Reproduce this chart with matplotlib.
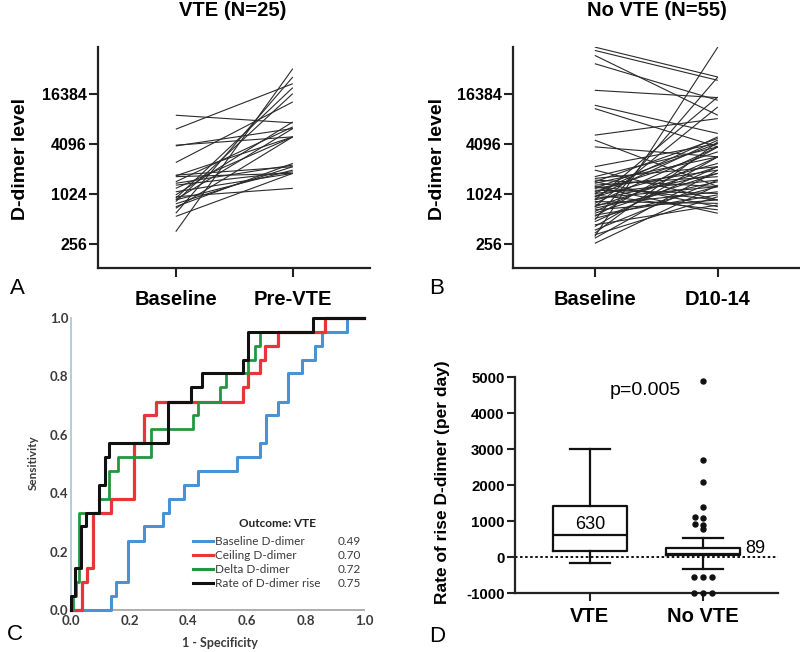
import matplotlib
matplotlib.use("Agg")
import matplotlib.pyplot as plt
from matplotlib.ticker import NullLocator, FixedLocator, FixedFormatter

# ---------------- data ----------------
# Panel A : VTE (N=25)
vte_categories = ["Baseline", "Pre-VTE"]
vte_baseline = [9150, 6210, 3980, 3900, 2460, 1730, 1700, 1380, 1310, 1090, 950, 910, 880,
                870, 830, 780, 690, 600, 550, 360, 1000, 1660, 1440, 720, 1200]
vte_pre = [7400, 22020, 5020, 6330, 13250, 2190, 5020, 2290, 1900, 1820, 1200, 19710, 6330,
           1990, 16700, 2190, 5020, 26490, 1820, 33400, 7610, 1820, 6620, 2400, 5020]

# Panel B : No VTE (N=55)
novte_categories = ["Baseline", "D10-14"]
novte_baseline = [60850, 55480, 48300, 38370, 18300, 12080, 11010, 5260, 4580, 3800, 2190, 1990,
                  315, 500, 720, 870, 1040, 1200, 1440, 1660, 1580, 1510, 1440, 1380, 1310, 1260,
                  1200, 1140, 1090, 1040, 1000, 950, 910, 870, 830, 790, 755, 720, 690, 660, 630,
                  600, 570, 550, 520, 475, 435, 415, 375, 345, 330, 300, 260, 1260, 950]
novte_d10 = [26490, 24150, 9150, 13870, 14940, 5510, 3800, 8350, 1260, 2880, 4170, 870,
             60850, 26490, 11530, 15210, 5020, 4170, 4800, 3800, 2190, 1260, 720, 2880, 1660, 870,
             1990, 1040, 3310, 1510, 660, 2400, 1260, 1820, 790, 3800, 1090, 2190, 1440, 870, 2880,
             1820, 1000, 3800, 1260, 2190, 755, 2880, 1510, 4370, 950, 1990, 1310, 600, 4580]
dimer_ticks = [256, 1024, 4096, 16384]

# Panel C : ROC curves (1 - specificity, sensitivity)
roc_names = ["Baseline D-dimer", "Ceiling D-dimer", "Delta D-dimer", "Rate of D-dimer rise"]
roc_auc = ["0.49", "0.70", "0.72", "0.75"]
baseline_fpr = [0, 0.136, 0.153, 0.193, 0.25, 0.313, 0.336, 0.387, 0.433, 0.567, 0.644, 0.667,
                0.707, 0.741, 0.787, 0.832, 0.858, 0.941, 1.0]
baseline_tpr = [0, 0.048, 0.095, 0.238, 0.286, 0.333, 0.381, 0.429, 0.476, 0.524, 0.571, 0.667,
                0.714, 0.810, 0.857, 0.905, 0.952, 1.0, 1.0]
ceiling_fpr = [0, 0.039, 0.056, 0.075, 0.136, 0.214, 0.25, 0.29, 0.587, 0.604, 0.644, 0.661,
               0.707, 0.866, 1.0]
ceiling_tpr = [0, 0.095, 0.143, 0.333, 0.381, 0.571, 0.667, 0.714, 0.762, 0.810, 0.857, 0.905,
               0.952, 1.0, 1.0]
delta_fpr = [0, 0.007, 0.018, 0.027, 0.096, 0.13, 0.16, 0.273, 0.415, 0.433, 0.507, 0.53, 0.604,
             0.627, 0.644, 0.826, 1.0]
delta_tpr = [0, 0.048, 0.095, 0.333, 0.381, 0.476, 0.524, 0.619, 0.667, 0.714, 0.762, 0.810,
             0.857, 0.905, 0.952, 1.0, 1.0]
rate_fpr = [0, 0, 0.014, 0.033, 0.052, 0.094, 0.116, 0.13, 0.332, 0.41, 0.446, 0.587, 0.604,
            0.826, 1.0]
rate_tpr = [0, 0.048, 0.143, 0.286, 0.333, 0.429, 0.524, 0.571, 0.714, 0.762, 0.810, 0.857,
            0.952, 1.0, 1.0]
roc_ticks = [0.0, 0.2, 0.4, 0.6, 0.8, 1.0]

# Panel D : rate of rise box plot
box_groups = ["VTE", "No VTE"]
box_median = [630, 89]
box_q1 = [180, 55]
box_q3 = [1425, 267]
box_whislo = [-150, -335]
box_whishi = [3000, 528]
novte_outliers = [4900, 2700, 2100, 1400, 1130, 1080, 930, 900, 780, -560, -560, -560,
                  -1000, -1000, -1000]
outlier_offsets = [0, 0, 0, 0, -0.075, 0.0, -0.075, 0.0, 0.0, -0.08, 0.0, 0.075,
                   -0.08, 0.0, 0.075]
box_ticks = [-1000, 0, 1000, 2000, 3000, 4000, 5000]

# ---------------- figure ----------------
W, H = 800, 652
fig = plt.figure(figsize=(W / 100, H / 100), dpi=100)
fig.patch.set_facecolor("white")

ARIAL = ["Liberation Sans", "DejaVu Sans"]
CAL = ["Lato", "DejaVu Sans"]


def axes_px(left, top, right, bottom):
    return fig.add_axes([left / W, 1 - bottom / H, (right - left) / W, (bottom - top) / H])


def pair_panel(ax, cats, before, after):
    for b, a in zip(before, after):
        ax.plot([0, 1], [b, a], color="#2b2b2b", lw=0.8, solid_capstyle="butt")
    ax.set_yscale("log", base=2)
    ax.set_ylim(131, 61000)
    ax.set_xlim(-0.665, 1.66)
    ax.yaxis.set_major_locator(FixedLocator(dimer_ticks))
    ax.yaxis.set_major_formatter(FixedFormatter([str(t) for t in dimer_ticks]))
    ax.yaxis.set_minor_locator(NullLocator())
    ax.set_xticks([0, 1])
    ax.set_xticklabels(cats, fontfamily=ARIAL, fontweight="bold", fontsize=14.5)
    for lab in ax.get_yticklabels():
        lab.set_fontfamily(ARIAL)
        lab.set_fontweight("bold")
        lab.set_fontsize(11.5)
    for s in ["top", "right"]:
        ax.spines[s].set_visible(False)
    for s in ["left", "bottom"]:
        ax.spines[s].set_linewidth(1.6)
        ax.spines[s].set_color("#222222")
    ax.tick_params(axis="y", length=6.5, width=1.5, pad=1.5, color="#222222")
    ax.tick_params(axis="x", length=6.5, width=1.5, pad=9, color="#222222")
    ax.set_facecolor("none")


# Panel A
axA = axes_px(98, 47, 370, 268)
pair_panel(axA, vte_categories, vte_baseline, vte_pre)
fig.text(233 / W, 1 - 11 / H, "VTE (N=25)", fontfamily=ARIAL, fontweight="bold",
         fontsize=14.5, ha="center", va="center")
fig.text(21 / W, 1 - 159 / H, "D-dimer level", fontfamily=ARIAL, fontweight="bold",
         fontsize=14, rotation=90, ha="center", va="center")
fig.text(17 / W, 1 - 288 / H, "A", fontfamily=ARIAL, fontsize=16, ha="center", va="center")

# Panel B
axB = axes_px(513, 47, 799, 268)
pair_panel(axB, novte_categories, novte_baseline, novte_d10)
fig.text(657 / W, 1 - 11 / H, "No VTE (N=55)", fontfamily=ARIAL, fontweight="bold",
         fontsize=14.5, ha="center", va="center")
fig.text(437 / W, 1 - 159 / H, "D-dimer level", fontfamily=ARIAL, fontweight="bold",
         fontsize=14, rotation=90, ha="center", va="center")
fig.text(437 / W, 1 - 288 / H, "B", fontfamily=ARIAL, fontsize=16, ha="center", va="center")

# Panel C (ROC)
axC = axes_px(71, 318, 364, 610)
roc_data = [(baseline_fpr, baseline_tpr, "#4a92d6", 2.2),
            (ceiling_fpr, ceiling_tpr, "#e8353a", 2.3),
            (delta_fpr, delta_tpr, "#22973f", 2.0),
            (rate_fpr, rate_tpr, "#111111", 2.2)]
for fpr, tpr, col, lw in roc_data:
    axC.step(fpr, tpr, where="post", color=col, lw=lw, clip_on=False, zorder=3)
axC.set_xlim(0, 1)
axC.set_ylim(0, 1)
axC.set_xticks(roc_ticks)
axC.set_yticks(roc_ticks)
axC.set_xticklabels([f"{t:.1f}" for t in roc_ticks], fontfamily=CAL, fontweight="bold",
                    fontsize=9.5, color="#3a3a3a")
axC.set_yticklabels([f"{t:.1f}" for t in roc_ticks], fontfamily=CAL, fontweight="bold",
                    fontsize=9.5, color="#3a3a3a")
axC.tick_params(axis="y", length=0, pad=2)
axC.tick_params(axis="x", length=0, pad=3.5)
for s in ["top", "right"]:
    axC.spines[s].set_visible(False)
axC.spines["left"].set_color("#a9c8dc")
axC.spines["left"].set_linewidth(1.3)
axC.spines["bottom"].set_color("#a8a8a8")
axC.spines["bottom"].set_linewidth(1.3)
axC.set_facecolor("none")
fig.text(33 / W, 1 - 463 / H, "Sensitivity", fontfamily=CAL, fontweight="bold",
         fontsize=8.5, color="#3a3a3a", rotation=90, ha="center", va="center")
fig.text(220 / W, 1 - 643 / H, "1 - Specificity", fontfamily=CAL, fontweight="bold",
         fontsize=9, color="#3a3a3a", ha="center", va="center")
fig.text(15 / W, 1 - 634 / H, "C", fontfamily=ARIAL, fontsize=16, ha="center", va="center")

# legend (manual, in axes coordinates)
axC.text(0.706, 0.295, "Outcome: VTE", transform=axC.transAxes, fontfamily=CAL,
         fontweight="bold", fontsize=8.5, color="#222222", ha="center", va="center")
leg_rows = [0.236, 0.188, 0.140, 0.092]
for (fpr, tpr, col, lw), name, auc, yy in zip(roc_data, roc_names, roc_auc, leg_rows):
    axC.plot([0.416, 0.485], [yy, yy], transform=axC.transAxes, color=col, lw=2.2,
             clip_on=False)
    axC.text(0.491, yy, name, transform=axC.transAxes, fontfamily=CAL, fontsize=8.5,
             color="#3a3a3a", ha="left", va="center")
    axC.text(0.99, yy, auc, transform=axC.transAxes, fontfamily=CAL, fontsize=8.5,
             color="#3a3a3a", ha="right", va="center")

# Panel D (box plot)
axD = axes_px(515, 377.3, 778, 593.3)
stats = []
for g, med, q1, q3, lo, hi in zip(box_groups, box_median, box_q1, box_q3, box_whislo,
                                 box_whishi):
    stats.append(dict(label=g, med=med, q1=q1, q3=q3, whislo=lo, whishi=hi, fliers=[]))
lp = dict(color="#111111", linewidth=1.6)
axD.bxp(stats, positions=[0, 1], widths=0.65, capwidths=0.35, showfliers=False,
        boxprops=lp, medianprops=lp, whiskerprops=lp, capprops=lp)
axD.plot([1 + o for o in outlier_offsets], novte_outliers, "o", color="#111111",
         markersize=3.6, clip_on=False, zorder=4)
axD.axhline(0, color="#111111", lw=1.4, ls=(0, (1.3, 1.3)), zorder=1)
axD.set_xlim(-0.662, 1.66)
axD.set_ylim(-1000, 5000)
axD.set_yticks(box_ticks)
axD.set_yticklabels([str(t) for t in box_ticks], fontfamily=ARIAL, fontweight="bold",
                    fontsize=10.8)
axD.set_xticks([0, 1])
axD.set_xticklabels(box_groups, fontfamily=ARIAL, fontweight="bold", fontsize=14.5)
for s in ["top", "right"]:
    axD.spines[s].set_visible(False)
for s in ["left", "bottom"]:
    axD.spines[s].set_linewidth(1.6)
    axD.spines[s].set_color("#222222")
axD.tick_params(axis="y", length=6, width=1.5, pad=1.5, color="#222222")
axD.tick_params(axis="x", length=6, width=1.5, pad=4, color="#222222")
axD.set_facecolor("none")
axD.text(0.485, 4620, "p=0.005", fontfamily=ARIAL, fontsize=14, ha="center", va="center")
axD.text(0, 900, str(box_median[0]), fontfamily=ARIAL, fontsize=13, ha="center", va="center")
axD.text(1.456, 258, str(box_median[1]), fontfamily=ARIAL, fontsize=13, ha="center",
         va="center")
fig.text(442 / W, 1 - 482 / H, "Rate of rise D-dimer (per day)", fontfamily=ARIAL,
         fontweight="bold", fontsize=12.5, rotation=90, ha="center", va="center")
fig.text(437 / W, 1 - 637 / H, "D", fontfamily=ARIAL, fontsize=16, ha="center", va="center")

fig.savefig("out.png", dpi=100, facecolor="white")
